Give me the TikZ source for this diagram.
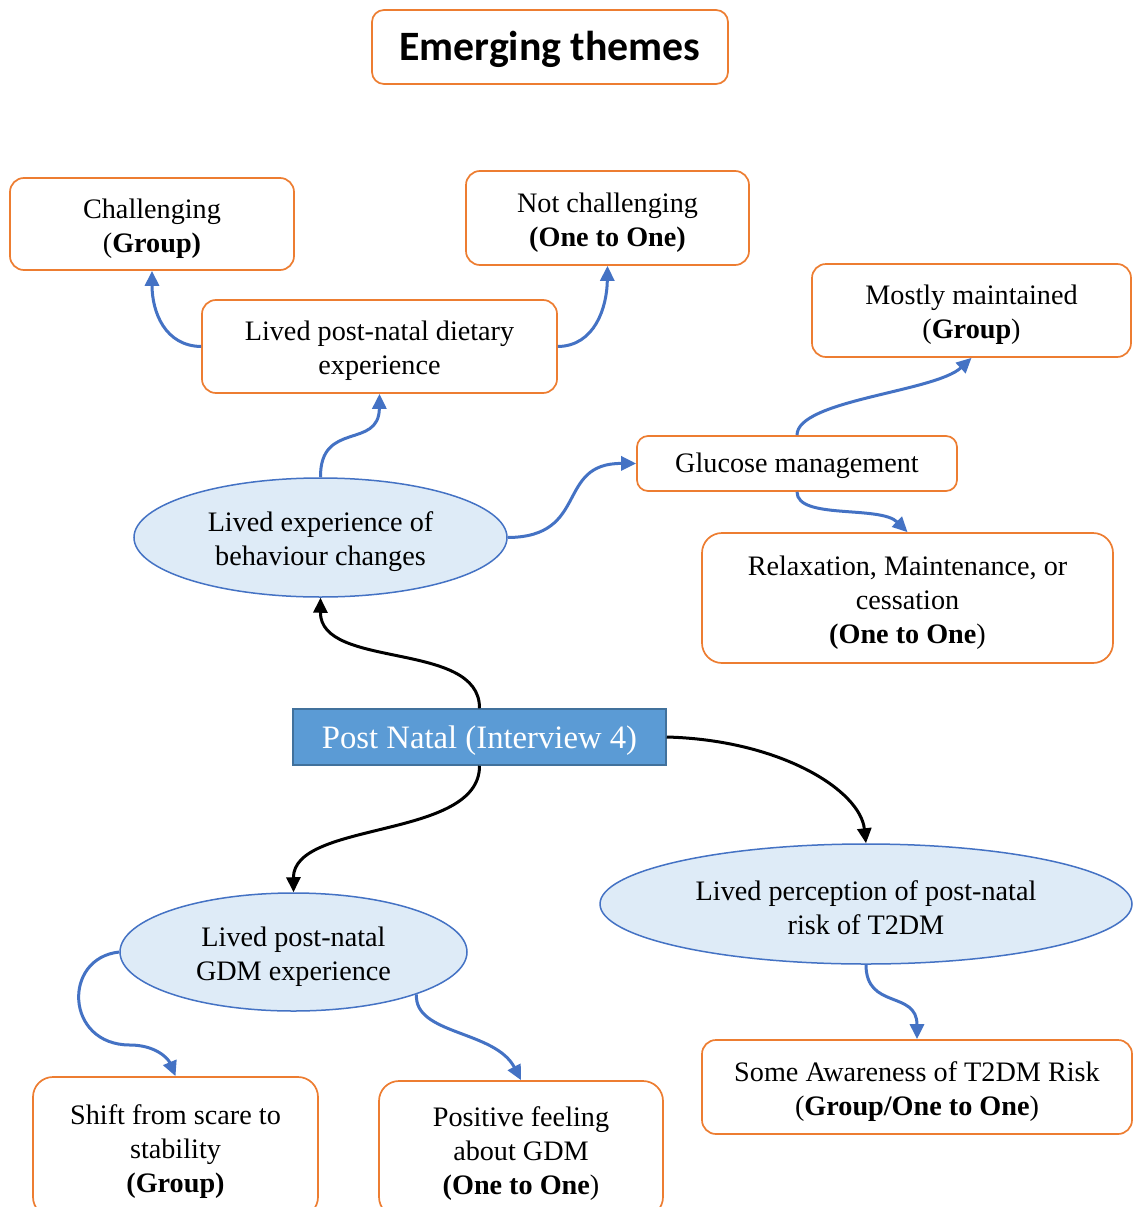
\documentclass[tikz,border=0pt]{standalone}
\usepackage{fontspec}
\setmainfont{Liberation Serif}
\newfontfamily\titlefont{Carlito}
\usetikzlibrary{arrows.meta,shapes.geometric}
\definecolor{boxorange}{RGB}{237,125,49}
\definecolor{linkblue}{RGB}{68,114,196}
\definecolor{ovalfill}{RGB}{222,235,247}
\definecolor{hubfill}{RGB}{91,155,213}
\definecolor{hubdraw}{RGB}{65,113,156}
% extra head room on the first line of multi-line labels
\newcommand\lift{\rule{0pt}{28pt}}
\tikzset{
  theme/.style={draw=boxorange, line width=1.7pt, rounded corners=14pt, fill=white,
    align=center, inner sep=0pt, font=\fontsize{28.2}{34}\selectfont},
  oval/.style={ellipse, draw=linkblue, line width=1.5pt, fill=ovalfill,
    align=center, inner sep=0pt, font=\fontsize{28.2}{34}\selectfont},
  hub/.style={draw=hubdraw, line width=1.5pt, fill=hubfill, text=white,
    inner sep=0pt, font=\fontsize{32.7}{38}\selectfont,
    execute at begin node={\rule{0pt}{30pt}}},
  bluelink/.style={draw=linkblue, line width=3pt, -{Triangle[length=15pt,width=14pt]}},
  blacklink/.style={draw=black, line width=3pt, -{Triangle[length=15pt,width=14pt]}},
}
\begin{document}
\begin{tikzpicture}[x=1pt,y=-1pt]
\clip (0,0) rectangle (1133,1207);
\fill[white] (0,0) rectangle (1133,1207);

% title
\node[theme, minimum width=356pt, minimum height=74pt, rounded corners=12pt,
  font=\titlefont\bfseries\fontsize{41.8}{46}\selectfont,
  execute at begin node={\rule{0pt}{35pt}}] (title) at (550,47) {Emerging themes};

% upper themes
\node[theme, minimum width=284pt, minimum height=92pt] (chal) at (152,224)
  {\lift Challenging\\(\textbf{Group)}};
\node[theme, minimum width=283pt, minimum height=94pt] (notchal) at (607.5,218)
  {\lift Not challenging\\\textbf{(One to One)}};
\node[theme, minimum width=355pt, minimum height=93pt] (diet) at (379.5,346.5)
  {\lift Lived post-natal dietary\\experience};
\node[theme, minimum width=319pt, minimum height=93pt] (maint) at (971.5,310.5)
  {\lift Mostly maintained\\(\textbf{Group})};
\node[theme, minimum width=320pt, minimum height=55pt, rounded corners=11pt] (gluc) at (797,463.5)
  {\rule{0pt}{24pt}Glucose management};
\node[theme, minimum width=411pt, minimum height=130pt, rounded corners=20pt] (relax) at (907.5,598)
  {\lift Relaxation, Maintenance, or\\cessation\\\textbf{(One to One})};

% ellipses
\node[oval, minimum width=373pt, minimum height=119pt] (behav) at (320.5,537.5)
  {\lift Lived experience of\\behaviour changes};
\node[oval, minimum width=347pt, minimum height=118pt] (gdm) at (293.5,952)
  {\lift Lived post-natal\\GDM experience};
\node[oval, minimum width=532pt, minimum height=120pt] (risk) at (866,904)
  {\lift Lived perception of post-natal\\risk of T2DM};

% central box
\node[hub, minimum width=373pt, minimum height=56pt] (pn) at (479.5,737)
  {Post Natal (Interview 4)};

% lower themes
\node[theme, minimum width=285pt, minimum height=140pt, rounded corners=20pt] (shift) at (175.5,1147)
  {\lift Shift from scare to\\stability\\\textbf{(Group)}};
\node[theme, minimum width=284pt, minimum height=136pt, rounded corners=20pt] (posit) at (521,1149)
  {\lift Positive feeling\\about GDM\\\textbf{(One to One})};
\node[theme, minimum width=430pt, minimum height=94pt] (aware) at (917,1087)
  {\lift Some Awareness of T2DM Risk\\(\textbf{Group/One to One})};

% connectors from the central box
\draw[blacklink] (pn.north) .. controls (480,640) and (320,670) .. (behav.south);
\draw[blacklink] (pn.south) .. controls (480,840) and (293,820) .. (gdm.north);
\draw[blacklink] (pn.east) .. controls (780,740) and (860,790) .. (risk.north);

% behaviour changes branch
\draw[bluelink] (behav.north) .. controls (320,420) and (379,450) .. (diet.south);
\draw[bluelink] (diet.west) .. controls (165,346) and (152,312) .. (chal.south);
\draw[bluelink] (diet.east) .. controls (595,346) and (607,307) .. (notchal.south);
\draw[bluelink] (behav.east) .. controls (590,537) and (555,463) .. (gluc.west);
\draw[bluelink] (gluc.north) .. controls (797,400) and (935,392) .. (maint.south);
\draw[bluelink] (gluc.south) .. controls (797,520) and (880,505) .. (relax.north);

% GDM branch
\draw[bluelink] (gdm.west) .. controls (62,958) and (65,1045) .. (130,1045)
  .. controls (155,1045) and (168,1058) .. (shift.north);
\draw[bluelink] (gdm.-19) .. controls (414,1035) and (495,1030) .. (posit.north);

% risk branch
\draw[bluelink] (risk.south) .. controls (866,1010) and (917,990) .. (aware.north);
\end{tikzpicture}
\end{document}
